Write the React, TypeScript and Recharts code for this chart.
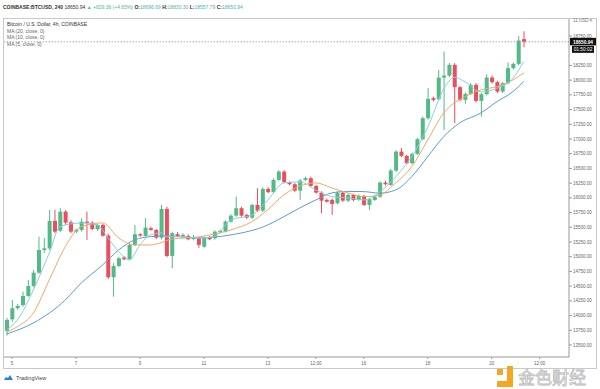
import React from "react";
import { ComposedChart, Bar, Line, XAxis, YAxis, ReferenceLine } from "recharts";

// BTCUSD 4h candles (4 Dec 20:00 .. 21 Dec 00:00)
const opens = [
  13740, 13937, 14124, 14180, 14333, 14503, 14729, 15115, 15143, 15608,
  15443, 15766, 15586, 15426, 15455, 15596, 15579, 15466, 15540, 15358,
  14651, 14843, 14990, 14957, 15200, 15382, 15353, 15484, 15455, 15324,
  15812, 15013, 15382, 15340, 15353, 15300, 15314, 15171, 15331, 15314,
  15416, 15426, 15596, 15698, 15824, 15710, 15664, 15880, 15783, 16152,
  16096, 16305, 16446, 16266, 16232, 16123, 16305, 16334, 16203, 16089,
  15965, 15965, 15909, 16089, 15953, 16050, 15965, 16033, 15880, 15965,
  16021, 16259, 16220, 16463, 16786, 16713, 16589, 16747, 16997, 17354,
  17694, 17677, 18044, 18078, 18260, 17881, 17665, 17767, 17920, 17648,
  17762, 18044, 17966, 17806, 17949, 18204, 18277, 18697,
];
const highs = [
  13960, 14265, 14200, 14406, 14605, 14775, 15341, 15319, 15795, 15795,
  15824, 15790, 15620, 15480, 15654, 15766, 15600, 15560, 15560, 15390,
  14890, 15000, 15010, 15230, 15540, 15400, 15654, 15510, 15470, 15880,
  15850, 15426, 15420, 15400, 15380, 15370, 15340, 15340, 15350, 15450,
  15460, 15620, 15720, 16021, 15850, 15730, 15900, 16164, 16180, 16180,
  16330, 16470, 16470, 16280, 16250, 16320, 16360, 16360, 16220, 16110,
  15990, 15990, 16110, 16110, 16080, 16070, 16060, 16050, 16000, 16050,
  16280, 16290, 16490, 16810, 16850, 16730, 16770, 17020, 17380, 17864,
  17720, 18175, 18486, 18290, 18290, 17900, 17790, 17950, 17950, 17780,
  18100, 18080, 17990, 17970, 18300, 18300, 18753, 18830,
];
const lows = [
  13660, 13896, 14100, 14151, 14320, 14480, 14710, 15064, 15115, 15399,
  15420, 15540, 15400, 15400, 15426, 15285, 15450, 15440, 15340, 14620,
  14320, 14820, 14940, 14940, 15180, 15340, 15340, 15440, 15300, 15290,
  14990, 14804, 15330, 15320, 15280, 15280, 15150, 15150, 15280, 15290,
  15400, 15410, 15580, 15680, 15680, 15640, 15640, 15760, 15760, 16080,
  16080, 16290, 16250, 16210, 16100, 15965, 16290, 16190, 16070, 15739,
  15920, 15710, 15890, 15930, 15930, 15940, 15950, 15860, 15795, 15950,
  16000, 16210, 16200, 16440, 16690, 16570, 16570, 16730, 16980, 17330,
  17640, 17650, 17155, 18050, 17269, 17640, 17600, 17750, 17620, 17381,
  17740, 17940, 17780, 17780, 17930, 18180, 18250, 18558,
];
const closes = [
  13925, 14124, 14163, 14333, 14503, 14729, 15115, 15143, 15608, 15426,
  15766, 15579, 15426, 15455, 15596, 15569, 15472, 15540, 15358, 14651,
  14843, 14974, 14957, 15200, 15382, 15358, 15494, 15455, 15324, 15812,
  15013, 15399, 15353, 15370, 15297, 15336, 15200, 15314, 15297, 15426,
  15438, 15596, 15698, 15824, 15698, 15664, 15880, 15783, 16152, 16096,
  16305, 16446, 16266, 16232, 16123, 16293, 16334, 16203, 16089, 15953,
  15936, 15897, 16089, 15953, 16050, 15965, 16033, 15880, 15977, 16021,
  16259, 16232, 16463, 16786, 16713, 16589, 16747, 16997, 17354, 17682,
  17665, 18044, 18078, 18260, 17881, 17665, 17767, 17920, 17648, 17762,
  18044, 17966, 17806, 17949, 18204, 18277, 18673, 18651,
];

// moving averages, read at a handful of candles: [candle index, value]
const ma20Pts = [
  [0, 13687], [5, 13874], [11, 14265], [14, 14554], [18, 14860], [21, 15115],
  [24, 15285], [27, 15341], [30, 15353], [36, 15319], [42, 15370], [49, 15540],
  [52, 15681], [55, 15829], [58, 15965], [61, 16084], [64, 16110], [67, 16106],
  [70, 16080], [73, 16135], [76, 16361], [79, 16701], [82, 17041], [85, 17274],
  [89, 17444], [92, 17636], [95, 17806], [97, 17976],
];
const ma10Pts = [
  [0, 13721], [2, 13811], [5, 14044], [8, 14605], [11, 15171], [14, 15511],
  [18, 15574], [21, 15320], [24, 15200], [27, 15200], [29, 15240], [31, 15300],
  [36, 15336], [42, 15455], [46, 15596], [49, 15800], [52, 16050], [55, 16200],
  [58, 16254], [61, 16169], [64, 16084], [67, 16021], [70, 16050], [73, 16254],
  [76, 16531], [79, 16985], [82, 17444], [84, 17614], [86, 17721], [89, 17835],
  [92, 17891], [95, 18005], [97, 18124],
];
const ma5Pts = [
  [0, 13755], [2, 13925], [5, 14435], [8, 15064], [10, 15511], [14, 15574],
  [17, 15540], [19, 15319], [21, 15086], [23, 14945], [25, 15200], [27, 15370],
  [29, 15404], [30, 15341], [33, 15341], [36, 15319], [39, 15341], [42, 15625],
  [46, 15710], [49, 15965], [52, 16254], [55, 16271], [58, 16135], [61, 16021],
  [64, 15999], [67, 15965], [70, 16100], [73, 16361], [76, 16701], [79, 17200],
  [82, 17850], [84, 18050], [86, 17970], [89, 17800], [92, 17864], [95, 18034],
  [97, 18316],
];

const emptySlots = 8; // blank 4h slots right of the last candle
const xTickIdx = [1, 13, 25, 37, 49, 58, 67, 79, 91, 100];
const xTickLabels = ["5", "7", "9", "11", "13", "12:00", "16", "18", "20", "12:00"];
const yTicks = [
  13500, 13750, 14000, 14250, 14500, 14750, 15000, 15250, 15500, 15750,
  16000, 16250, 16500, 16750, 17000, 17250, 17500, 17750, 18000, 18250, 18750,
];
const lastPrice = 18650.94;

const GREEN = "#53b987";
const RED = "#eb4d5c";
const FONT = "'Liberation Sans', Arial, sans-serif";

const lookup = (pts: number[][], i: number) => {
  const hit = pts.find((p) => p[0] === i);
  return hit ? hit[1] : null;
};

const rows = Array.from({ length: closes.length + emptySlots }, (_, i) => ({
  i,
  range: i < closes.length ? [lows[i], highs[i]] : null,
  o: opens[i],
  c: closes[i],
  ma20: lookup(ma20Pts, i),
  ma10: lookup(ma10Pts, i),
  ma5: lookup(ma5Pts, i),
}));

function Candle(props: any) {
  const { x, y, width, height, payload } = props;
  if (!payload || !payload.range) return null;
  const [lo, hi] = payload.range;
  const top = Math.min(y, y + height);
  const h = Math.abs(height);
  const py = (v: number) => (hi === lo ? top : top + ((hi - v) / (hi - lo)) * h);
  const up = payload.c >= payload.o;
  const col = up ? GREEN : RED;
  const bTop = py(Math.max(payload.o, payload.c));
  const bBot = py(Math.min(payload.o, payload.c));
  const cx = x + width / 2;
  return (
    <g>
      <line x1={cx} x2={cx} y1={top} y2={top + h} stroke={col} strokeWidth={1} />
      <rect x={x} y={bTop} width={width} height={Math.max(1, bBot - bTop)} fill={col} />
    </g>
  );
}

function XTick(props: any) {
  const { x, y, payload } = props;
  const k = xTickIdx.indexOf(payload.value);
  if (k < 0) return <g />;
  return (
    <g>
      <line x1={x} x2={x} y1={y} y2={y + 2} stroke="#999" />
      <text x={x} y={y + 7.5} textAnchor="middle" fontSize={4.5} fill="#666" fontFamily={FONT}>
        {xTickLabels[k]}
      </text>
    </g>
  );
}

function PriceTag(props: any) {
  const vb = props.viewBox;
  if (!vb) return null;
  const x0 = vb.x + vb.width + 1;
  return (
    <g fontFamily={FONT} fontSize={4.8}>
      <rect x={x0} y={vb.y - 4} width={26} height={7.5} fill="#111" />
      <text x={x0 + 13} y={vb.y + 1.8} textAnchor="middle" fill="#fff" fontWeight="bold">
        {lastPrice.toFixed(2)}
      </text>
      <rect x={x0 + 2} y={vb.y + 4} width={22} height={7} fill="#111" />
      <text x={x0 + 13} y={vb.y + 9.5} textAnchor="middle" fill="#fff">
        01:50:02
      </text>
    </g>
  );
}

export default function App() {
  const muted = { color: "#666", fontSize: 5, lineHeight: "6.6px" };
  return (
    <div style={{ position: "absolute", left: 0, top: 0, width: 600, height: 389, background: "#fff", fontFamily: FONT, overflow: "hidden" }}>
      <div style={{ position: "absolute", left: 3, top: 4, fontSize: 5, whiteSpace: "nowrap", color: "#333" }}>
        <b>COINBASE:BTCUSD, 240</b> 18650.94 <span style={{ color: GREEN }}>▲ +829.36 (+4.65%)</span>{" "}
        <b>O:</b><span style={{ color: "#4fb3a9" }}>18696.69</span> <b>H:</b><span style={{ color: "#4fb3a9" }}>18830.30</span>{" "}
        <b>L:</b><span style={{ color: "#4fb3a9" }}>18557.79</span> <b>C:</b><span style={{ color: "#4fb3a9" }}>18650.94</span>
      </div>

      <div style={{ position: "absolute", left: 3, top: 18, width: 594, height: 351, border: "1px solid #c9c9c9", boxSizing: "border-box" }} />

      <div style={{ position: "absolute", left: 4, top: 19 }}>
        <ComposedChart width={593} height={350} data={rows} margin={{ top: 0, right: 0, bottom: 0, left: 0 }} barSize={4}>
          <XAxis
            dataKey="i"
            interval={0}
            tick={<XTick />}
            tickLine={false}
            tickSize={0}
            tickMargin={0}
            axisLine={{ stroke: "#999" }}
            height={12}
          />
          <YAxis
            orientation="right"
            domain={[13296, 19039]}
            allowDataOverflow
            ticks={yTicks}
            interval={0}
            width={28}
            tickSize={3}
            tickMargin={1}
            axisLine={{ stroke: "#999" }}
            tickLine={{ stroke: "#999" }}
            tick={{ fontSize: 4.5, fill: "#666", fontFamily: FONT, textAnchor: "start" }}
            tickFormatter={(v: number) => v.toFixed(2)}
          />
          <ReferenceLine y={lastPrice} stroke="#aaa" strokeDasharray="1.5 1.5" label={<PriceTag />} />
          <Line dataKey="ma20" stroke="#5b9bd5" strokeWidth={1} dot={false} connectNulls type="monotone" isAnimationActive={false} />
          <Line dataKey="ma10" stroke="#f2a766" strokeWidth={1} dot={false} connectNulls type="monotone" isAnimationActive={false} />
          <Line dataKey="ma5" stroke="#86d0df" strokeWidth={1} dot={false} connectNulls type="monotone" isAnimationActive={false} />
          <Bar dataKey="range" shape={<Candle />} isAnimationActive={false} />
        </ComposedChart>
      </div>

      <div style={{ position: "absolute", left: 7, top: 21, whiteSpace: "nowrap" }}>
        <div style={{ ...muted, color: "#333" }}>Bitcoin / U.S. Dollar, 4h, COINBASE</div>
        <div style={muted}>MA (20, close, 0)</div>
        <div style={muted}>MA (10, close, 0)</div>
        <div style={muted}>MA (5, close, 0)</div>
      </div>

      <div style={{ position: "absolute", left: 573, top: 18, fontSize: 4.5, color: "#777" }}>11 USD ≡</div>

      <div style={{ position: "absolute", left: 3, top: 374, display: "flex", alignItems: "center", gap: 2 }}>
        <svg width={11} height={7}>
          <path d="M1 6 L3 3 L5 4 L7 1 L10 6 Z" fill="#2d7fd0" />
        </svg>
        <span style={{ fontSize: 5.5, color: "#444" }}>TradingView</span>
      </div>

      <svg style={{ position: "absolute", left: 495, top: 366 }} width={20} height={21}>
        <rect x={2} y={3} width={6} height={6} fill="#f3a824" />
        <rect x={12} y={0} width={6} height={21} fill="#f3a824" />
        <rect x={2} y={15} width={16} height={6} fill="#f3a824" />
      </svg>
      <div style={{ position: "absolute", left: 518, top: 368, fontSize: 17, lineHeight: "17px", color: "#fff", WebkitTextStroke: "0.8px #bdbdbd", fontFamily: "'Noto Sans CJK SC', sans-serif", whiteSpace: "nowrap" }}>
        金色财经
      </div>
    </div>
  );
}
